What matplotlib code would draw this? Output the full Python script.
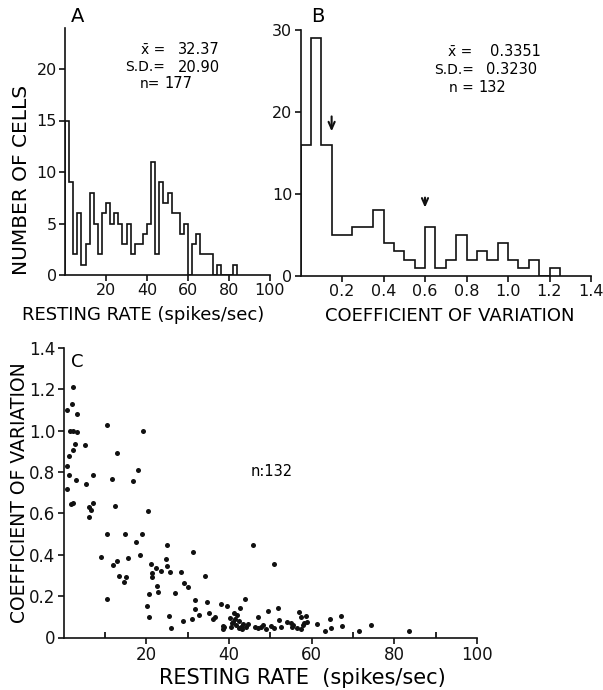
import numpy as np
import matplotlib
matplotlib.use("Agg")
import matplotlib.pyplot as plt

# ---------------- data ----------------
# Panel A: resting rate histogram (bins of 2 spikes/sec starting at 0)
rate_bin_width = 2
rate_counts = [15, 9, 2, 6, 1, 3, 8, 5, 2, 6, 7, 5, 6, 5, 3, 5, 2, 3, 3, 4,
               5, 11, 2, 9, 7, 8, 6, 6, 4, 5, 0, 3, 4, 2, 2, 2, 0, 1, 0, 0,
               0, 1]
rate_stats = ["32.37", "20.90", "177"]

# Panel B: coefficient of variation histogram (bins of 0.05)
cv_bin_width = 0.05
cv_counts = [16, 29, 16, 5, 5, 6, 6, 8, 4, 3, 2, 1, 6, 1, 2, 5, 2, 3, 2, 4,
             2, 1, 2, 0, 1]
cv_stats = ["0.3351", "0.3230", "132"]
arrow_x = [0.15, 0.60]
arrow_tip = [17.3, 8.0]
arrow_tail = [19.8, 9.9]

# Panel C: scatter resting rate vs CV
scatter_rate = [0.7, 2.2, 1.9, 3.1, 1.5, 2.3, 3.3, 2.7, 2.2, 1.4, 0.7, 1.4, 3.0, 0.7, 1.7, 2.3,
                5.2, 5.4, 7.0, 6.1, 6.6, 6.0, 7.2, 8.9,
                10.4, 13.0, 11.8, 12.4, 10.4, 14.8, 12.0, 12.8, 15.5, 13.4, 15.0, 14.6, 10.5,
                16.8, 17.9, 19.2, 17.5, 18.9, 18.4,
                20.5, 20.1, 20.7, 20.7, 21.1, 21.3, 21.3, 22.4, 23.5, 22.5, 22.7, 24.9, 24.7,
                24.9, 25.6, 25.5, 26.0, 26.9, 28.4, 29.0, 30.0, 28.8,
                31.2, 31.0, 31.8, 31.8, 32.7, 34.2, 34.6, 35.2, 36.2, 36.6, 38.0, 38.5, 38.5, 39.5,
                40.2, 40.4, 41.0, 41.3, 41.7, 42.0, 42.6, 42.5, 42.3, 42.8, 43.3, 43.9, 44.5, 45.8,
                46.3, 47.1, 46.9, 48.3, 48.9, 49.3,
                50.1, 50.9, 50.9, 51.9, 52.1, 52.5, 53.9, 54.9, 55.1, 56.9, 56.5, 57.3, 58.1, 58.5,
                58.9, 57.5, 57.8,
                61.3, 63.1, 64.4, 64.6, 67.0, 67.4, 71.5, 74.3, 83.6,
                40.8, 43.0, 41.5, 44.0, 38.8, 47.8, 55.5]
scatter_cv = [1.10, 1.21, 1.13, 1.08, 1.00, 1.00, 0.995, 0.935, 0.905, 0.875, 0.83, 0.785, 0.76,
              0.715, 0.645, 0.65,
              0.93, 0.74, 0.785, 0.63, 0.615, 0.58, 0.65, 0.39,
              1.025, 0.89, 0.765, 0.635, 0.50, 0.50, 0.35, 0.37, 0.385, 0.297, 0.294, 0.27, 0.184,
              0.755, 0.81, 1.00, 0.46, 0.50, 0.40,
              0.61, 0.15, 0.208, 0.097, 0.357, 0.31, 0.294, 0.335, 0.323, 0.248, 0.218, 0.445, 0.38,
              0.345, 0.318, 0.103, 0.044, 0.213, 0.317, 0.261, 0.243, 0.08,
              0.414, 0.087, 0.182, 0.137, 0.108, 0.295, 0.173, 0.119, 0.088, 0.098, 0.16, 0.055,
              0.042, 0.152,
              0.093, 0.052, 0.076, 0.118, 0.062, 0.108, 0.141, 0.078, 0.048, 0.052, 0.064, 0.184,
              0.065, 0.445,
              0.052, 0.097, 0.044, 0.06, 0.039, 0.13,
              0.055, 0.044, 0.355, 0.141, 0.084, 0.052, 0.076, 0.068, 0.052, 0.125, 0.044, 0.039,
              0.068, 0.104, 0.076, 0.097, 0.06,
              0.065, 0.033, 0.088, 0.044, 0.104, 0.055, 0.031, 0.060, 0.031,
              0.07, 0.04, 0.09, 0.05, 0.05, 0.05, 0.06]

# ---------------- style ----------------
plt.rcParams['font.family'] = ['DejaVu Sans']
W, H = 603, 690
fig = plt.figure(figsize=(W / 100, H / 100), dpi=100)
lw = 1.2
ink = '#111111'


def px_axes(left, top, right, bottom):
    return fig.add_axes([left / W, 1 - bottom / H, (right - left) / W, (bottom - top) / H])


def style(ax, size=11.5):
    for s in ['top', 'right']:
        ax.spines[s].set_visible(False)
    for s in ['left', 'bottom']:
        ax.spines[s].set_linewidth(lw)
        ax.spines[s].set_color(ink)
    ax.tick_params(direction='out', length=4, width=lw, colors=ink, labelsize=size, pad=2)


# ---------------- panel A ----------------
axA = px_axes(65, 27.8, 270, 275)
edgesA = np.arange(len(rate_counts) + 1) * rate_bin_width
axA.stairs(rate_counts, edgesA, color=ink, lw=lw, baseline=0)
axA.set_xlim(0, 100)
axA.set_ylim(0, 24)
axA.set_xticks([20, 40, 60, 80, 100])
axA.set_yticks([0, 5, 10, 15, 20])
style(axA)
axA.set_xlabel("RESTING RATE (spikes/sec)", fontsize=13)
axA.xaxis.set_label_coords(0.38, -0.125)
axA.set_ylabel("NUMBER OF CELLS", fontsize=14.5)
axA.yaxis.set_label_coords(-0.166, 0.384)

fig.text(78 / W, 1 - 17 / H, "A", fontsize=14, ha='center', va='center')
fig.text(165 / W, 1 - 50 / H, "x\u0304 =", fontsize=10, ha='right', va='center')
fig.text(178 / W, 1 - 50 / H, rate_stats[0], fontsize=10.5, ha='left', va='center')
fig.text(165 / W, 1 - 67 / H, "S.D.=", fontsize=10, ha='right', va='center')
fig.text(178 / W, 1 - 67 / H, rate_stats[1], fontsize=10.5, ha='left', va='center')
fig.text(160 / W, 1 - 84 / H, "n=", fontsize=10, ha='right', va='center')
fig.text(164 / W, 1 - 84 / H, rate_stats[2], fontsize=10.5, ha='left', va='center')

# ---------------- panel B ----------------
axB = px_axes(300.5, 30, 591, 276)
edgesB = np.arange(len(cv_counts) + 1) * cv_bin_width
axB.stairs(cv_counts, edgesB, color=ink, lw=lw, baseline=0)
axB.set_xlim(0, 1.4)
axB.set_ylim(0, 30)
axB.set_xticks([0.2, 0.4, 0.6, 0.8, 1.0, 1.2, 1.4])
axB.set_xticklabels(["0.2", "0.4", "0.6", "0.8", "1.0", "1.2", "1.4"])
axB.set_yticks([0, 10, 20, 30])
style(axB)
axB.set_xlabel("COEFFICIENT OF VARIATION", fontsize=13)
axB.xaxis.set_label_coords(0.515, -0.125)
for xa, tip, tail in zip(arrow_x, arrow_tip, arrow_tail):
    axB.annotate("", xy=(xa, tip), xytext=(xa, tail),
                 arrowprops=dict(arrowstyle="->,head_length=0.5,head_width=0.22",
                                 color=ink, lw=1.5))

fig.text(318 / W, 1 - 17 / H, "B", fontsize=14, ha='center', va='center')
fig.text(472 / W, 1 - 52 / H, "x\u0304 =", fontsize=10, ha='right', va='center')
fig.text(490 / W, 1 - 52 / H, cv_stats[0], fontsize=10.5, ha='left', va='center')
fig.text(474 / W, 1 - 70 / H, "S.D.=", fontsize=10, ha='right', va='center')
fig.text(486 / W, 1 - 70 / H, cv_stats[1], fontsize=10.5, ha='left', va='center')
fig.text(474 / W, 1 - 88 / H, "n =", fontsize=10, ha='right', va='center')
fig.text(478 / W, 1 - 88 / H, cv_stats[2], fontsize=10.5, ha='left', va='center')

# ---------------- panel C ----------------
axC = px_axes(63.7, 347.7, 477.2, 637.5)
axC.scatter(scatter_rate, scatter_cv, s=13, color=ink, linewidths=0, clip_on=False)
axC.set_xlim(0, 100)
axC.set_ylim(0, 1.4)
axC.set_xticks([20, 40, 60, 80, 100])
axC.set_xticks([10, 30, 50, 70, 90], minor=True)
axC.set_yticks([0, 0.2, 0.4, 0.6, 0.8, 1.0, 1.2, 1.4])
axC.set_yticklabels(["0", "0.2", "0.4", "0.6", "0.8", "1.0", "1.2", "1.4"])
style(axC, size=12)
axC.tick_params(axis='x', which='minor', direction='in', length=4, width=lw)
axC.set_xlabel("RESTING RATE  (spikes/sec)", fontsize=15)
axC.xaxis.set_label_coords(0.576, -0.105)
axC.set_ylabel("COEFFICIENT OF VARIATION", fontsize=13.5)
axC.yaxis.set_label_coords(-0.084, 0.5)
fig.text(77 / W, 1 - 362 / H, "C", fontsize=13, ha='center', va='center')
fig.text(272 / W, 1 - 471 / H, "n:132", fontsize=10.5, ha='center', va='center')

fig.savefig("out.png", dpi=100)
